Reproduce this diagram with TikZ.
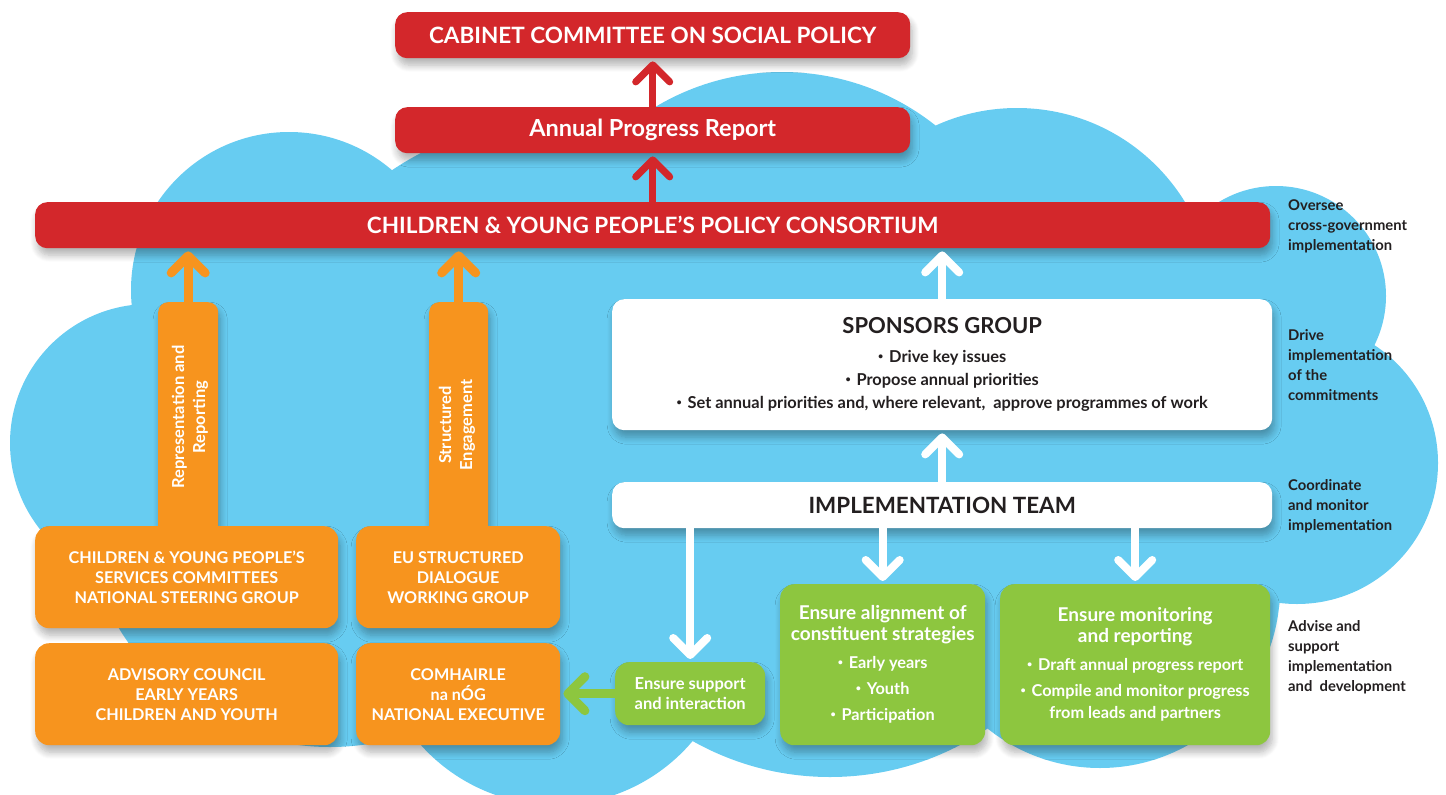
\documentclass[tikz,border=0pt]{standalone}
\usepackage{fontspec}
\setmainfont{Lato}
\usetikzlibrary{arrows.meta,shadows,shadows.blur}
\definecolor{cred}{HTML}{D3272B}
\definecolor{corange}{HTML}{F7941E}
\definecolor{cgreen}{HTML}{8DC63F}
\definecolor{cblue}{HTML}{67CCF1}
\definecolor{cdark}{HTML}{231F20}
\newcommand{\bul}{\raisebox{.18em}{\fontsize{9}{9}\selectfont\textbullet}\hspace{0.35em}}
\begin{document}
\begin{tikzpicture}[x=1pt,y=-1pt,
  shadowed/.style={blur shadow={shadow xshift=2pt,shadow yshift=-7pt,shadow blur radius=7pt,shadow blur steps=8,shadow opacity=30}},
  box/.style={rounded corners=12pt, inner sep=0pt, anchor=north west, align=center, shadowed},
  redbox/.style={box, fill=cred, text=white, font=\bfseries\fontsize{22.5}{25}\selectfont},
  whitebox/.style={box, fill=white, text=cdark},
  orangebox/.style={box, rounded corners=14pt, fill=corange, text=white, font=\bfseries\fontsize{16.2}{20}\selectfont},
  greenbox/.style={box, rounded corners=14pt, fill=cgreen, text=white, font=\bfseries\fontsize{16.3}{26}\selectfont},
  barbox/.style={rounded corners=10pt, fill=corange, inner sep=0pt, anchor=north west, shadowed},
  bartext/.style={rotate=90, text=white, align=center, font=\bfseries\fontsize{16.5}{21}\selectfont},
  sidelabel/.style={anchor=west, align=left, inner sep=0pt, text=cdark, font=\bfseries\fontsize{14.8}{20}\selectfont},
  tipbase/.style={-{Straight Barb[length=17pt,width=34pt,round]}, shorten >=3pt},
  redarrow/.style={tipbase, draw=cred, line width=7pt},
  orangearrow/.style={tipbase, draw=corange, line width=9pt},
  whitearrow/.style={tipbase, draw=white, line width=8pt},
  greenarrow/.style={tipbase, draw=cgreen, line width=9pt}
]
\useasboundingbox (0,0) rectangle (1446,795);
% cloud
\begin{scope}
\clip (0,0) rectangle (1446,795);
\fill[cblue] (149,443) circle[radius=139] (289,290) circle[radius=158]
  (560,420) circle[radius=301] (782,319) circle[radius=247]
  (1017,305) circle[radius=197] (1276,296) circle[radius=110]
  (1297,463) circle[radius=141] (1100,588) circle[radius=180]
  (830,497) circle[radius=280] (555,625) circle[radius=180]
  (330,500) circle[radius=247];
\end{scope}
% red boxes
\node[redbox, minimum width=515pt, minimum height=46pt] (cab) at (395,12) {CABINET COMMITTEE ON SOCIAL POLICY};
\node[redbox, minimum width=515pt, minimum height=46pt, font=\bfseries\fontsize{23.5}{25}\selectfont] (apr) at (395,107) {Annual Progress Report};
\node[redbox, minimum width=1235pt, minimum height=46pt] (cons) at (35,202) {CHILDREN \& YOUNG PEOPLE’S POLICY CONSORTIUM};
% white boxes
\node[whitebox, minimum width=660pt, minimum height=131pt, font=\bfseries\fontsize{16.4}{23}\selectfont] (spons) at (612,299)
  {{\fontsize{22}{24}\selectfont SPONSORS GROUP}\\[6pt]
   \bul Drive key issues\\
   \bul Propose annual priorities\\
   \bul Set annual priorities and, where relevant,\ \ approve programmes of work};
\node[whitebox, minimum width=660pt, minimum height=46pt, font=\bfseries\fontsize{22.4}{24}\selectfont] (impl) at (612,482) {IMPLEMENTATION TEAM};
% orange bars
\node[barbox, minimum width=60pt, minimum height=240pt] (bar1) at (158,302) {};
\node[barbox, minimum width=59pt, minimum height=240pt] (bar2) at (429,302) {};
\node[bartext] (bar1txt) at (190,417) {Representation and\\Reporting};
\node[bartext] (bar2txt) at (457,425) {Structured\\Engagement};
% orange boxes
\node[orangebox, minimum width=303pt, minimum height=102pt] (o1) at (35,526) {CHILDREN \& YOUNG PEOPLE’S\\SERVICES COMMITTEES\\NATIONAL STEERING GROUP};
\node[orangebox, minimum width=204pt, minimum height=102pt] (o2) at (356,526) {EU STRUCTURED\\DIALOGUE\\WORKING GROUP};
\node[orangebox, minimum width=303pt, minimum height=102pt] (o3) at (35,643) {ADVISORY COUNCIL\\EARLY YEARS\\CHILDREN AND YOUTH};
\node[orangebox, minimum width=204pt, minimum height=102pt] (o4) at (356,643) {COMHAIRLE\\na nÓG\\NATIONAL EXECUTIVE};
% green boxes
\node[greenbox, minimum width=150pt, minimum height=63pt, font=\bfseries\fontsize{16.5}{19.5}\selectfont] (sup) at (615,662) {Ensure support\\and interaction};
\node[greenbox, minimum width=205pt, minimum height=161pt] (g2) at (780,584)
  {{\fontsize{19}{21}\selectfont Ensure alignment of}\\[-5pt]
   {\fontsize{19}{21}\selectfont constituent strategies}\\[2pt]
   \bul Early years\\ \bul Youth\\ \bul Participation};
\node[greenbox, minimum width=270pt, minimum height=161pt] (g3) at (1000,584)
  {{\fontsize{19}{21}\selectfont Ensure monitoring}\\[-5pt]
   {\fontsize{19}{21}\selectfont and reporting}\\[2pt]
   \bul Draft annual progress report\\ \bul Compile and monitor progress\\[-4pt] from leads and partners};
% side labels
\node[sidelabel] (l1) at (1288,226) {Oversee\\cross-government\\implementation};
\node[sidelabel] (l2) at (1288,365) {Drive\\implementation\\of the\\commitments};
\node[sidelabel] (l3) at (1288,506) {Coordinate\\and monitor\\implementation};
\node[sidelabel] (l4) at (1288,657) {Advise and\\support\\implementation\\and\ \ development};
% arrows
\draw[redarrow] (apr.north) -- (cab.south);
\draw[redarrow] (cons.north -| apr.south) -- (apr.south);
\draw[orangearrow] (bar1.north) -- (bar1.north |- cons.south);
\draw[orangearrow] (bar2.north) -- (bar2.north |- cons.south);
\draw[whitearrow] (spons.north) -- (spons.north |- cons.south);
\draw[whitearrow] (impl.north) -- (spons.south);
\draw[whitearrow] (impl.south -| sup.north) -- (sup.north);
\draw[whitearrow] (impl.south -| g2.north) -- (g2.north);
\draw[whitearrow] (impl.south -| g3.north) -- (g3.north);
\draw[greenarrow] (sup.west) -- (sup.west -| o4.east);
\end{tikzpicture}
\end{document}
